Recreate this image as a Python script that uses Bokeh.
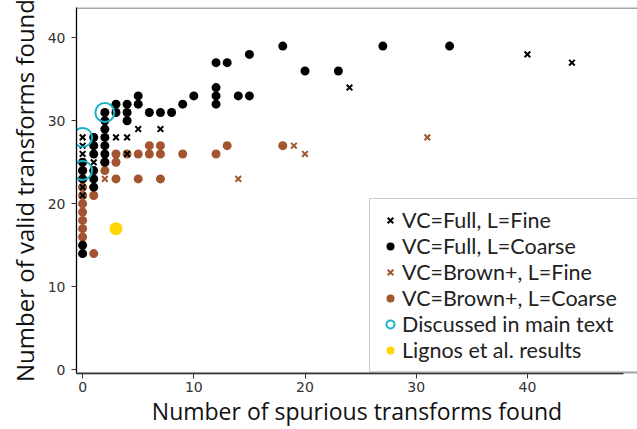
from bokeh.plotting import figure
from bokeh.models import Range1d, Span, Legend, LegendItem, FixedTicker
from bokeh.embed import file_html
from bokeh.resources import INLINE

# VC=Full, L=Fine (black x)
ff_x = [0, 0, 0, 0, 0, 0, 1, 1, 1, 3, 4, 4, 5, 7, 24, 40, 44]
ff_y = [28, 27, 26, 25, 22, 21, 28, 27, 25, 28, 28, 26, 29, 29, 34, 38, 37]

# VC=Full, L=Coarse (black dots)
fc_x = [0, 0, 0, 0, 0, 1, 1, 1, 1, 1, 1, 2, 2, 2, 2, 2, 2, 2, 3, 3, 4, 4, 4, 5, 5,
        6, 7, 8, 9, 10, 12, 12, 12, 12, 13, 14, 15, 15, 18, 20, 23, 27, 33]
fc_y = [14, 15, 23, 24, 25, 22, 23, 24, 26, 27, 28, 25, 26, 27, 28, 29, 30, 31, 31, 32, 30, 31, 32, 32, 33,
        31, 31, 31, 32, 33, 32, 33, 34, 37, 37, 33, 33, 38, 39, 36, 36, 39, 39]

# VC=Brown+, L=Fine (brown x)
bf_x = [0, 0, 0, 0, 0, 0, 0, 0, 2, 2, 14, 19, 20, 31]
bf_y = [24, 23, 20, 19, 18, 17, 16, 15, 24, 23, 23, 27, 26, 28]

# VC=Brown+, L=Coarse (brown dots)
bc_x = [0, 0, 0, 0, 0, 0, 0, 0, 0, 1, 1, 2, 2, 3, 3, 3, 4, 5, 5, 6, 6, 7, 7, 7, 9, 12, 13, 18]
bc_y = [16, 17, 18, 19, 20, 21, 22, 23, 24, 14, 21, 24, 25, 23, 25, 26, 26, 23, 26, 26, 27, 23, 26, 27, 26, 26, 27, 27]

# Discussed in main text
disc_x = [0, 0, 2]
disc_y = [28, 24, 31]

# Lignos et al. results
lig_x = [3]
lig_y = [17]

x_ticks = [0, 10, 20, 30, 40]
y_ticks = [0, 10, 20, 30, 40]

labels = ["VC=Full, L=Fine", "VC=Full, L=Coarse", "VC=Brown+, L=Fine",
          "VC=Brown+, L=Coarse", "Discussed in main text", "Lignos et al. results"]

BROWN = "#a3552f"
CYAN = "#17b4c8"
FONT = "Open Sans"
LEGEND_FONT = "Lato"

p = figure(width=637, height=429, x_range=Range1d(-0.55, 49.9), y_range=Range1d(-0.45, 43.65),
           output_backend="svg", toolbar_location=None,
           min_border_left=76, min_border_right=0, min_border_top=7, min_border_bottom=55)
p.outline_line_color = None
p.grid.visible = False
p.background_fill_color = "white"
p.border_fill_color = "white"

r_bc = p.scatter(bc_x, bc_y, marker="circle", size=9, fill_color=BROWN, line_color=None)
r_bf = p.scatter(bf_x, bf_y, marker="x", size=8, line_color=BROWN, line_width=2)
r_fc = p.scatter(fc_x, fc_y, marker="circle", size=9, fill_color="black", line_color=None)
r_ff = p.scatter(ff_x, ff_y, marker="x", size=8, line_color="black", line_width=2)
r_disc = p.scatter(disc_x, disc_y, marker="circle", size=19, fill_color=None, line_color=CYAN, line_width=2)
r_lig = p.scatter(lig_x, lig_y, marker="circle", size=13, fill_color="#ffd700", line_color=None)

p.add_layout(Span(location=43.6, dimension="width", line_color="#888888", line_width=1.5))
p.add_layout(Span(location=-0.4, dimension="width", line_color="#888888", line_width=1.5))

for ax, ticks in ((p.xaxis, x_ticks), (p.yaxis, y_ticks)):
    ax.ticker = FixedTicker(ticks=ticks)
    ax.minor_tick_line_color = None
    ax.major_tick_out = 5
    ax.major_tick_in = 0
    ax.major_tick_line_color = "#333333"
    ax.axis_line_color = "black"
    ax.axis_line_width = 1.3
    ax.major_label_text_font = "DejaVu Sans"
    ax.major_label_text_font_size = "14px"
    ax.major_label_text_color = "#333333"
    ax.axis_label_text_font = FONT
    ax.axis_label_text_font_style = "normal"
    ax.axis_label_text_color = "#111111"

p.xaxis.axis_label_text_font_size = "23px"
p.yaxis.axis_label_text_font_size = "24px"
p.xaxis.bounds = (-0.55, 48.6)
p.xaxis.axis_label = "Number of spurious transforms found"
p.yaxis.axis_label = "Number of valid transforms found"
p.xaxis.major_label_standoff = 3
p.yaxis.major_label_standoff = 6
p.xaxis.axis_label_standoff = 0
p.yaxis.axis_label_standoff = 4

legend = Legend(items=[LegendItem(label=l, renderers=[r]) for l, r in
                       zip(labels, [r_ff, r_fc, r_bf, r_bc, r_disc, r_lig])],
                location=(293, 1))
legend.label_text_font = LEGEND_FONT
legend.label_text_font_size = "21.5px"
legend.label_text_color = "#222222"
legend.label_height = 24
legend.glyph_height = 20
legend.glyph_width = 24
legend.spacing = 0
legend.padding = 8
legend.label_standoff = 0
legend.label_width = 260
legend.border_line_color = "#999999"
legend.border_line_width = 1
legend.background_fill_color = "white"
legend.background_fill_alpha = 1
p.add_layout(legend, "center")

open("out.html", "w").write(file_html(p, INLINE))
